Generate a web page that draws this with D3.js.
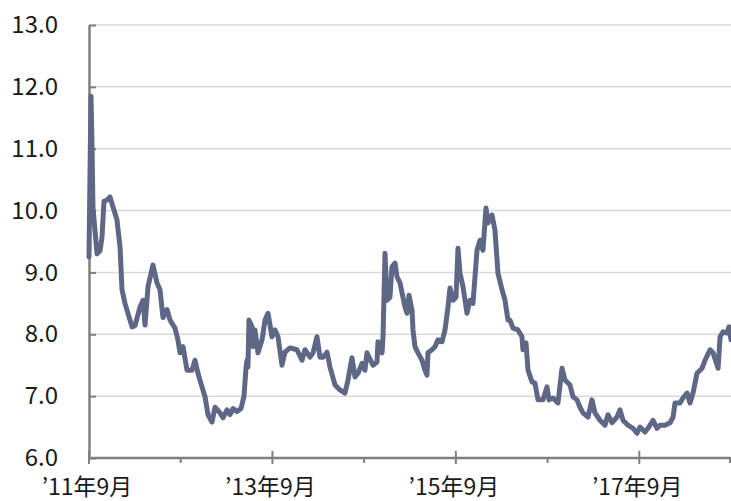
<!DOCTYPE html>
<html>
<head>
<meta charset="utf-8">
<script src="https://cdn.jsdelivr.net/npm/d3@7"></script>
<style>
  body { margin: 0; background: #fff; }
  svg { display: block; }
</style>
</head>
<body>
<div id="chart"></div>
<script>
// months since 2011-09 (fractional) and yield values
var months = [0, 0.26, 0.39, 0.52, 1.05, 1.44, 1.70, 1.96, 2.36, 2.75, 3.14, 3.66, 4.06, 4.32, 4.71, 5.10, 5.63, 6.02,
  6.67, 7.07, 7.33, 7.72, 8.37, 8.90, 9.29, 9.68, 10.21, 10.60, 11.25, 11.64, 11.91, 12.30, 12.82, 13.48, 13.87,
  14.26, 14.78, 15.18, 15.57, 16.09, 16.49, 17.14, 17.53, 18.06, 18.45, 18.84, 19.36, 19.89, 20.28, 20.54, 20.67,
  20.80, 20.93, 21.33, 21.46, 21.72, 22.11, 22.64, 23.03, 23.42, 23.94, 24.34, 24.73, 25.25, 25.64, 26.30, 27.21,
  27.87, 28.26, 28.92, 29.31, 29.83, 30.22, 30.62, 31.14, 31.53, 32.19, 32.84, 33.49, 33.89, 34.41, 34.80, 35.20,
  35.72, 36.11, 36.37, 36.77, 37.16, 37.68, 37.81, 38.34, 38.47, 38.73, 38.99, 39.38, 39.64, 40.04, 40.30, 40.69,
  41.08, 41.34, 41.61, 41.87, 42.26, 42.39, 42.65, 43.05, 43.57, 43.96, 44.22, 44.35, 44.88, 45.27, 45.66, 46.19,
  46.58, 46.97, 47.23, 47.63, 48.02, 48.28, 48.54, 48.93, 49.46, 49.85, 50.24, 50.77, 51.16, 51.55, 51.94, 52.21,
  52.73, 53.12, 53.51, 54.04, 54.43, 54.82, 55.08, 55.48, 56.13, 56.65, 56.78, 57.18, 57.44, 57.96, 58.35, 58.75,
  59.40, 59.92, 60.19, 60.71, 61.36, 61.89, 62.28, 62.93, 63.33, 63.85, 64.24, 64.63, 65.29, 65.81, 66.20, 66.86,
  67.51, 67.90, 68.43, 69.08, 69.47, 69.87, 70.52, 71.18, 71.70, 72.09, 72.75, 73.14, 73.80, 74.32, 74.71, 75.37,
  76.02, 76.42, 76.68, 77.33, 77.72, 78.25, 78.64, 79.03, 79.56, 80.21, 80.60, 81.26, 81.65, 82.31, 82.57, 82.96,
  83.48, 83.74, 84.00];
var values = [9.25, 11.85, 11.1, 10.05, 9.3, 9.35, 9.57, 10.15, 10.17, 10.22, 10.06, 9.85, 9.41, 8.72, 8.5, 8.34, 8.12, 8.14,
  8.44, 8.55, 8.15, 8.77, 9.12, 8.83, 8.72, 8.27, 8.4, 8.23, 8.1, 7.91, 7.7, 7.8, 7.42, 7.42, 7.58,
  7.37, 7.15, 6.99, 6.7, 6.58, 6.82, 6.73, 6.65, 6.78, 6.7, 6.8, 6.75, 6.8, 7.0, 7.45, 7.58,
  7.47, 8.23, 8.12, 7.8, 8.07, 7.7, 7.91, 8.23, 8.34, 7.96, 8.07, 7.96, 7.5, 7.71, 7.78, 7.75,
  7.58, 7.75, 7.63, 7.7, 7.96, 7.63, 7.63, 7.71, 7.47, 7.18, 7.1, 7.05, 7.26, 7.62, 7.31, 7.37,
  7.53, 7.42, 7.7, 7.6, 7.5, 7.55, 7.88, 7.7, 7.96, 9.31, 8.55, 8.6, 9.09, 9.15, 8.93, 8.83,
  8.6, 8.44, 8.34, 8.63, 8.39, 8.07, 7.8, 7.7, 7.58, 7.42, 7.34, 7.7, 7.75, 7.8, 7.91, 7.88,
  8.07, 8.44, 8.75, 8.55, 8.6, 9.39, 8.99, 8.77, 8.34, 8.55, 8.5, 9.36, 9.52, 9.36, 10.04, 9.8,
  9.93, 9.68, 8.99, 8.72, 8.55, 8.23, 8.23, 8.1, 8.07, 7.96, 7.75, 7.86, 7.42, 7.23, 7.21, 6.94,
  6.94, 7.15, 6.94, 6.97, 6.89, 7.45, 7.26, 7.18, 6.99, 6.94, 6.82, 6.73, 6.66, 6.94, 6.73, 6.61,
  6.53, 6.7, 6.57, 6.66, 6.78, 6.61, 6.53, 6.48, 6.4, 6.5, 6.42, 6.48, 6.61, 6.48, 6.53, 6.53,
  6.57, 6.66, 6.89, 6.89, 6.97, 7.05, 6.89, 7.05, 7.37, 7.45, 7.58, 7.75, 7.7, 7.45, 7.96, 8.04,
  8.02, 8.12, 7.91];

var yTicks = [6, 7, 8, 9, 10, 11, 12, 13];
var xMajor = [0, 24, 48, 72];
var xMinor = [12, 36, 60, 84];
var xLabels = ["’11年9月", "’13年9月", "’15年9月", "’17年9月"];

var data = months.map(function(m, i) { return {m: m, v: values[i]}; });

var width = 731, height = 501;
var margin = {top: 25, right: 0, bottom: 43, left: 89};

var svg = d3.select("#chart").append("svg")
  .attr("width", width)
  .attr("height", height);

var x = d3.scaleLinear()
  .domain([0, 84])
  .range([margin.left, width - margin.right]);
var y = d3.scaleLinear()
  .domain([6, 13])
  .range([height - margin.bottom, margin.top]);

// gridlines
svg.append("g").selectAll("line")
  .data(yTicks.filter(d => d > 6))
  .enter().append("line")
  .attr("x1", x(0))
  .attr("x2", x(84))
  .attr("y1", d => y(d))
  .attr("y2", d => y(d))
  .attr("stroke", "#d9d9d9")
  .attr("stroke-width", 1.5);

// y axis
var yAxis = svg.append("g")
  .attr("transform", "translate(" + x(0) + ",0)")
  .call(d3.axisLeft(y).tickValues(yTicks).tickSizeInner(-7).tickSizeOuter(0)
    .tickFormat(d3.format(".1f")).tickPadding(31));
yAxis.select(".domain").attr("stroke", "#7f7f7f").attr("stroke-width", 2.5);
yAxis.selectAll(".tick line").attr("stroke", "#7f7f7f").attr("stroke-width", 2);
yAxis.selectAll("text")
  .attr("fill", "#1a1a1a")
  .attr("font-family", "Noto Sans CJK JP, sans-serif")
  .attr("font-size", "24px");

// x axis
var xg = svg.append("g");
xg.append("line")
  .attr("x1", x(0) - 1)
  .attr("x2", x(84))
  .attr("y1", y(6))
  .attr("y2", y(6))
  .attr("stroke", "#7f7f7f")
  .attr("stroke-width", 2.5);
xg.selectAll(".major")
  .data(xMajor)
  .enter().append("line")
  .attr("class", "major")
  .attr("x1", d => x(d))
  .attr("x2", d => x(d))
  .attr("y1", y(6) - 7)
  .attr("y2", y(6) + 6)
  .attr("stroke", "#7f7f7f")
  .attr("stroke-width", 2);
xg.selectAll(".minor")
  .data(xMinor)
  .enter().append("line")
  .attr("class", "minor")
  .attr("x1", d => x(d) - (d === 84 ? 1 : 0))
  .attr("x2", d => x(d) - (d === 84 ? 1 : 0))
  .attr("y1", y(6))
  .attr("y2", y(6) + 5)
  .attr("stroke", "#7f7f7f")
  .attr("stroke-width", 2);
xg.selectAll("text")
  .data(xMajor)
  .enter().append("text")
  .attr("x", d => x(d) - 2)
  .attr("y", 495)
  .attr("text-anchor", "middle")
  .attr("fill", "#1a1a1a")
  .attr("font-family", "Noto Sans CJK JP, sans-serif")
  .attr("font-size", "23px")
  .text((d, i) => xLabels[i]);

// the line
var line = d3.line()
  .x(d => x(d.m))
  .y(d => y(d.v));
svg.append("path")
  .datum(data)
  .attr("d", line)
  .attr("fill", "none")
  .attr("stroke", "#5f6786")
  .attr("stroke-width", 5)
  .attr("stroke-linejoin", "round")
  .attr("stroke-linecap", "round");
</script>
</body>
</html>
